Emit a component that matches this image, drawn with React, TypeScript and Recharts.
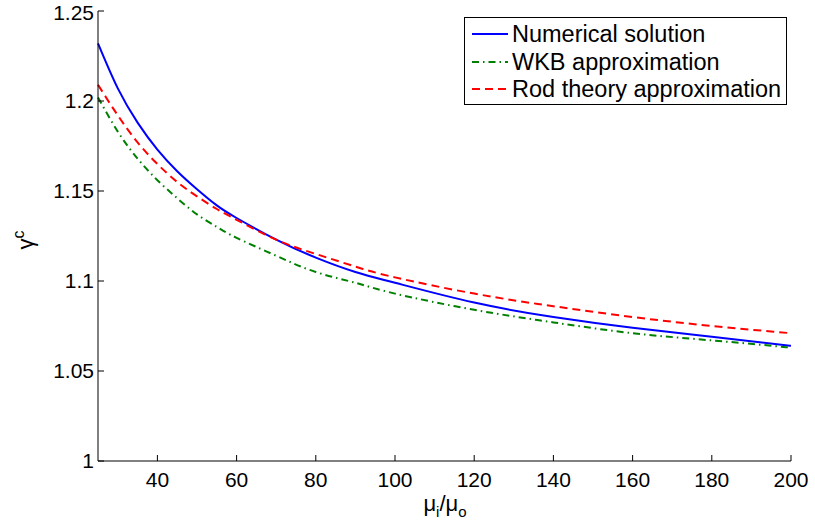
import { LineChart, Line, XAxis, YAxis, Legend } from 'recharts';

const ratios = [25, 30, 35, 40, 45, 50, 55, 60, 70, 80, 90, 100, 120, 140, 160, 180, 200];
const numerical = [1.232, 1.207, 1.188, 1.173, 1.161, 1.151, 1.142, 1.135, 1.123, 1.113, 1.105, 1.099, 1.088, 1.080, 1.074, 1.069, 1.064];
const wkb = [1.202, 1.183, 1.168, 1.156, 1.146, 1.137, 1.130, 1.124, 1.114, 1.105, 1.099, 1.093, 1.084, 1.077, 1.071, 1.067, 1.063];
const rod = [1.209, 1.192, 1.177, 1.165, 1.155, 1.147, 1.140, 1.134, 1.123, 1.115, 1.108, 1.102, 1.093, 1.086, 1.080, 1.075, 1.071];

const xTicks = [40, 60, 80, 100, 120, 140, 160, 180, 200];
const yTicks = [1, 1.05, 1.1, 1.15, 1.2, 1.25];

const series = [
  { key: 'numerical', name: 'Numerical solution', color: '#0000ff', dash: undefined },
  { key: 'wkb', name: 'WKB approximation', color: '#008000', dash: '7 4 1.5 4' },
  { key: 'rod', name: 'Rod theory approximation', color: '#ff0000', dash: '8 5' },
];

const data = ratios.map((x, i) => ({ x, numerical: numerical[i], wkb: wkb[i], rod: rod[i] }));

const font = 'Liberation Sans, Arial, Helvetica, sans-serif';
const tickStyle = { fontSize: 21, fill: '#000', fontFamily: font };
const blank = () => '';

function LegendBox() {
  return (
    <div
      style={{
        position: 'relative',
        width: 323,
        height: 88,
        boxSizing: 'border-box',
        border: '1px solid #000',
        background: '#fff',
        fontFamily: font,
        fontSize: 23.5,
        color: '#000',
      }}
    >
      {series.map((s, i) => (
        <div key={s.key} style={{ position: 'absolute', left: 6, top: 16 + i * 27.5 - 14, height: 28, display: 'flex', alignItems: 'center', whiteSpace: 'nowrap' }}>
          <svg width={38} height={28}>
            <line x1={1} y1={14} x2={37} y2={14} stroke={s.color} strokeWidth={2} strokeDasharray={s.dash} />
          </svg>
          <span style={{ marginLeft: 3, lineHeight: '28px' }}>{s.name}</span>
        </div>
      ))}
    </div>
  );
}

const XTitle = () => (
  <text x={445} y={511} textAnchor="middle" fontFamily={font} fontSize={22} fill="#000">
    <tspan>μ</tspan>
    <tspan dy={6} fontSize={15}>i</tspan>
    <tspan dy={-6}>/μ</tspan>
    <tspan dy={6} fontSize={15}>o</tspan>
  </text>
);

const YTitle = () => (
  <text transform="translate(33,240) rotate(-90)" x={0} y={0} textAnchor="middle" fontFamily={font} fontSize={22} fill="#000">
    <tspan>γ</tspan>
    <tspan dy={-9} fontSize={16}>c</tspan>
  </text>
);

export default function App() {
  return (
    <div style={{ position: 'absolute', left: 0, top: 0, background: '#fff' }}>
      <LineChart width={815} height={528} data={data} margin={{ top: 11, right: 24, bottom: 0, left: 0 }}>
        <XAxis
          dataKey="x"
          type="number"
          domain={[25, 200]}
          ticks={xTicks}
          height={67}
          tickSize={-6}
          tickMargin={17}
          tick={tickStyle}
          stroke="#000"
          axisLine={{ stroke: '#000' }}
          tickLine={{ stroke: '#000' }}
          label={<XTitle />}
        />
        <XAxis
          xAxisId="top"
          orientation="top"
          dataKey="x"
          type="number"
          domain={[25, 200]}
          ticks={xTicks}
          height={0}
          tickSize={-6}
          tickFormatter={blank}
          stroke="#000"
        />
        <YAxis
          type="number"
          domain={[1, 1.25]}
          ticks={yTicks}
          width={98}
          tickSize={-6}
          tickMargin={10}
          tick={tickStyle}
          stroke="#000"
          label={<YTitle />}
        />
        <YAxis
          yAxisId="right"
          orientation="right"
          type="number"
          domain={[1, 1.25]}
          ticks={yTicks}
          width={0}
          tickSize={-6}
          tickFormatter={blank}
          stroke="#000"
        />
        <Legend
          layout="vertical"
          align="center"
          verticalAlign="middle"
          width={323}
          content={<LegendBox />}
          wrapperStyle={{ top: 17, left: 464, width: 323, height: 88 }}
        />
        {series.map((s) => (
          <Line
            key={s.key}
            dataKey={s.key}
            name={s.name}
            type="natural"
            stroke={s.color}
            strokeWidth={2}
            strokeDasharray={s.dash}
            dot={false}
            activeDot={false}
            isAnimationActive={false}
          />
        ))}
      </LineChart>
    </div>
  );
}
